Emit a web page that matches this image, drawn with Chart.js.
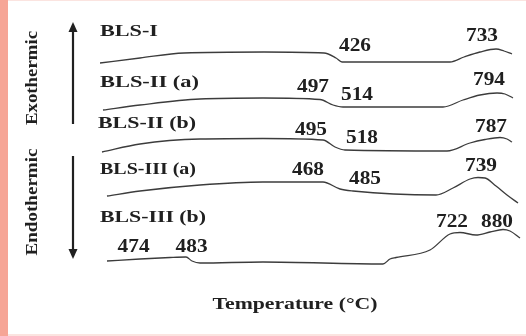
<!DOCTYPE html>
<html>
<head>
<meta charset="utf-8">
<script src="https://cdn.jsdelivr.net/npm/chart.js@4/dist/chart.umd.min.js"></script>
<style>
  html, body { margin: 0; padding: 0; background: #ffffff; overflow: hidden; }
  canvas { display: block; }
</style>
</head>
<body>
<canvas id="dta" width="526" height="336"></canvas>
<script>
// DTA traces, stacked. x: relative position along the heating run (0–105),
// y: offset signal units (each trace shifted so they don't overlap).
const seriesNames = ['BLS-I', 'BLS-II (a)', 'BLS-II (b)', 'BLS-III (a)', 'BLS-III (b)'];

const blsI_x   = [0, 10, 21, 41, 56, 59, 60.5, 87.5, 91, 95, 99, 101, 103];
const blsI_y   = [103.5, 106, 108.5, 109, 108.5, 106, 104, 104, 106.5, 109, 110.5, 109.5, 108];

const blsIIa_x = [0.75, 10, 25, 40.75, 55, 58.25, 60.75, 85.75, 90.75, 95, 99.25, 101.25, 103.25];
const blsIIa_y = [80, 82.5, 85.5, 86, 85.25, 82.5, 81.5, 81.5, 85, 87.5, 88.5, 88, 86];

const blsIIb_x = [0.5, 10, 25, 40.75, 55.75, 58.75, 61.25, 86.75, 92.5, 96.25, 100, 101.75, 103];
const blsIIb_y = [59, 63, 65.5, 65.75, 65, 61.5, 60, 59.5, 63.5, 65.25, 66.25, 65.5, 64];

const blsIIIa_x = [1.75, 10, 25, 40.75, 55.75, 60, 63.25, 84, 88.25, 92.5, 94.5, 96.25, 99, 101.75, 104.5];
const blsIIIa_y = [37, 39.5, 42.5, 44, 44, 40.5, 39.5, 37.5, 41, 45.5, 46.25, 46, 42, 37.5, 33.5];

const blsIIIb_x = [1.75, 10, 17.5, 21.5, 23, 25, 40.75, 70.75, 72.5, 74, 82.5, 87.5, 90, 94, 97.5, 100.75, 102.5, 105];
const blsIIIb_y = [4.5, 5.5, 6.25, 6.5, 4.5, 3.5, 4, 3, 5.5, 6.25, 10, 18, 18.75, 17.5, 19, 20.25, 19.5, 16];

// Peak temperatures (°C) with label anchor points in the same units
const peakLabels = ['426', '733', '497', '514', '794', '495', '518', '787', '468', '485', '739', '474', '483', '722', '880'];
const peakX      = [63.75, 95.5, 53.25, 64.25, 97.25, 52.75, 65.5, 97.75, 52, 66.25, 95.25, 8.4, 22.9, 88, 99.25];
const peakY      = [112, 117, 91.5, 87.5, 95, 70, 66, 71.5, 50, 45.5, 52, 11.5, 11.5, 24, 24];

// Trace name anchors (left edge, vertical middle) and their set widths in px
const nameX = [0, 0, -0.5, 0, 0];
const nameY = [119, 93.5, 73, 50, 26];
const nameW = [58, 99, 98, 96, 106];

const xs = [blsI_x, blsIIa_x, blsIIb_x, blsIIIa_x, blsIIIb_x];
const ys = [blsI_y, blsIIa_y, blsIIb_y, blsIIIa_y, blsIIIb_y];

const INK = '#202020';
const SERIF = '"Liberation Serif", Times, "Times New Roman", serif';

// Draws bold serif text stretched along its run to a set width
function fitText(ctx, text, x, y, size, width, align, rotate) {
  ctx.save();
  ctx.font = 'bold ' + size + 'px ' + SERIF;
  ctx.fillStyle = INK;
  ctx.textAlign = align;
  ctx.textBaseline = 'middle';
  const sx = width / ctx.measureText(text).width;
  ctx.translate(x, y);
  if (rotate) ctx.rotate(-Math.PI / 2);
  ctx.scale(sx, 1);
  ctx.fillText(text, 0, 0);
  ctx.restore();
}

function arrow(ctx, x, yFrom, yTo) {
  const dir = yTo < yFrom ? -1 : 1;
  ctx.save();
  ctx.strokeStyle = INK;
  ctx.fillStyle = INK;
  ctx.lineWidth = 2.2;
  ctx.beginPath();
  ctx.moveTo(x, yFrom);
  ctx.lineTo(x, yTo - dir * 8);
  ctx.stroke();
  ctx.beginPath();
  ctx.moveTo(x, yTo);
  ctx.lineTo(x - 4.5, yTo - dir * 10);
  ctx.lineTo(x + 4.5, yTo - dir * 10);
  ctx.closePath();
  ctx.fill();
  ctx.restore();
}

const frame = {
  id: 'frame',
  beforeDraw(chart) {
    const { ctx, width, height } = chart;
    ctx.save();
    ctx.fillStyle = '#ffffff';
    ctx.fillRect(0, 0, width, height);
    ctx.fillStyle = '#fbe4e0';
    ctx.fillRect(0, 0, width, 1);
    ctx.fillRect(0, height - 2, width, 2);
    ctx.fillStyle = '#f6a596';
    ctx.fillRect(0, 0, 8, height);
    ctx.restore();
  }
};

const annotations = {
  id: 'annotations',
  afterDatasetsDraw(chart) {
    const { ctx, scales: { x, y }, chartArea } = chart;
    seriesNames.forEach((n, i) => {
      fitText(ctx, n, x.getPixelForValue(nameX[i]), y.getPixelForValue(nameY[i]), 17, nameW[i], 'left');
    });
    peakLabels.forEach((t, i) => {
      fitText(ctx, t, x.getPixelForValue(peakX[i]), y.getPixelForValue(peakY[i]), 18.5, 32, 'center');
    });
    const ax = chartArea.left - 27;
    arrow(ctx, ax, 124, 22);
    arrow(ctx, ax, 156, 259);
    fitText(ctx, 'Exothermic', 33, 78, 16.5, 94, 'center', true);
    fitText(ctx, 'Endothermic', 33, 202, 16.5, 107, 'center', true);
    fitText(ctx, 'Temperature (\u00B0C)', 295, 305, 17, 165, 'center');
  }
};

new Chart(document.getElementById('dta'), {
  type: 'line',
  data: {
    datasets: seriesNames.map((name, i) => ({
      label: name,
      data: xs[i].map((v, j) => ({ x: v, y: ys[i][j] })),
      borderColor: '#3c3c3c',
      borderWidth: 1.3,
      pointRadius: 0,
      fill: false,
      cubicInterpolationMode: 'monotone',
      clip: false
    }))
  },
  options: {
    responsive: false,
    devicePixelRatio: 1,
    animation: false,
    layout: { padding: { left: 100, right: 6, top: 20, bottom: 66 } },
    plugins: { legend: { display: false }, tooltip: { enabled: false } },
    scales: {
      x: { type: 'linear', min: 0, max: 105, display: false },
      y: { type: 'linear', min: 0, max: 125, display: false }
    }
  },
  plugins: [frame, annotations]
});
</script>
</body>
</html>
